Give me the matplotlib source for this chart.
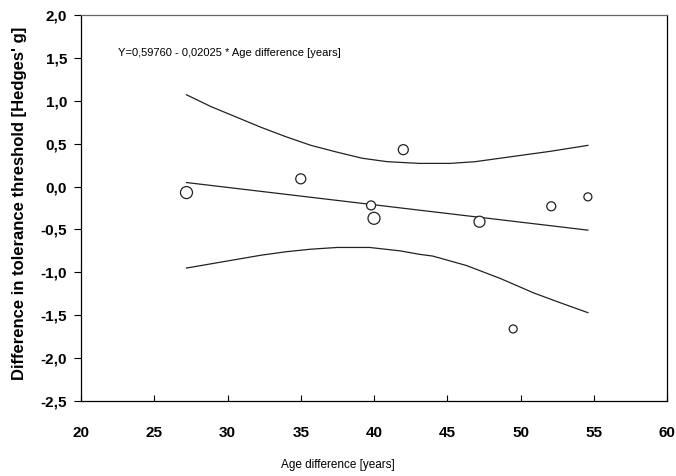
import numpy as np
import matplotlib
matplotlib.use('Agg')
import matplotlib.pyplot as plt
from matplotlib.ticker import FuncFormatter

# data
age_diff = [27.2, 35.0, 42.0, 39.8, 40.0, 47.2, 52.1, 54.6, 49.5]
hedges_g = [-0.07, 0.09, 0.43, -0.22, -0.37, -0.41, -0.23, -0.12, -1.66]
radius_px = [6, 5, 5, 4.5, 6, 5.5, 4.5, 4, 4]

fit_x = [27.2, 54.6]
intercept = 0.59760
slope = -0.02025

upper_x = [27.2, 28.9, 30.6, 32.3, 34.0, 35.7, 37.5, 39.2, 40.9, 43.1, 45.2, 46.9, 48.6, 50.3, 52.0, 54.6]
upper_y = [1.07, 0.93, 0.81, 0.69, 0.58, 0.48, 0.40, 0.33, 0.29, 0.27, 0.27, 0.29, 0.33, 0.37, 0.41, 0.48]
lower_x = [27.2, 28.9, 30.6, 32.3, 34.0, 35.7, 37.5, 39.7, 41.8, 43.1, 44.0, 46.3, 48.6, 50.9, 52.8, 54.6]
lower_y = [-0.95, -0.90, -0.85, -0.80, -0.76, -0.73, -0.71, -0.71, -0.75, -0.79, -0.81, -0.92, -1.07, -1.24, -1.36, -1.47]

xticks = [20, 25, 30, 35, 40, 45, 50, 55, 60]
yticks = [-2.5, -2.0, -1.5, -1.0, -0.5, 0.0, 0.5, 1.0, 1.5, 2.0]

fig = plt.figure(figsize=(6.76, 4.76), dpi=100)
ax = fig.add_axes([81 / 676, 1 - 401 / 476, 586 / 676, 386 / 476])

fit_y = [intercept + slope * v for v in fit_x]
ax.plot(fit_x, fit_y, color='#222222', lw=0.9)
ax.plot(upper_x, upper_y, color='#222222', lw=0.9)
ax.plot(lower_x, lower_y, color='#222222', lw=0.9)

sizes = [(2 * r * 0.72) ** 2 for r in radius_px]
ax.scatter(age_diff, hedges_g, s=sizes, facecolors='white', edgecolors='#222222',
           linewidths=0.9, zorder=3)

ax.set_xlim(20, 60)
ax.set_ylim(-2.5, 2.0)
ax.set_xticks(xticks)
ax.set_yticks(yticks)
ax.yaxis.set_major_formatter(FuncFormatter(lambda v, p: ('%.1f' % v).replace('.', ',')))

for lab in ax.get_xticklabels() + ax.get_yticklabels():
    lab.set_family('Liberation Sans')
    lab.set_weight('bold')
    lab.set_size(11)
ax.tick_params(axis='x', direction='in', length=4, pad=18, width=0.8)
ax.tick_params(axis='y', direction='out', length=5, pad=5, width=0.8)

for s in ax.spines.values():
    s.set_linewidth(0.9)
ax.spines['top'].set_color('#666666')

ax.text(22.5, 1.56, 'Y=0,59760 - 0,02025 * Age difference [years]',
        family='Liberation Sans', fontsize=8, va='center', ha='left')

fig.text(338 / 676, 1 - 465 / 476, 'Age difference [years]', family='Liberation Sans',
         fontsize=8.5, ha='center', va='center')
fig.text(20 / 676, 1 - 203 / 476, "Difference in tolerance threshold [Hedges' g]",
         family='Liberation Sans', weight='bold', fontsize=12, rotation=90,
         ha='center', va='center')

fig.savefig('out.png', dpi=100)
